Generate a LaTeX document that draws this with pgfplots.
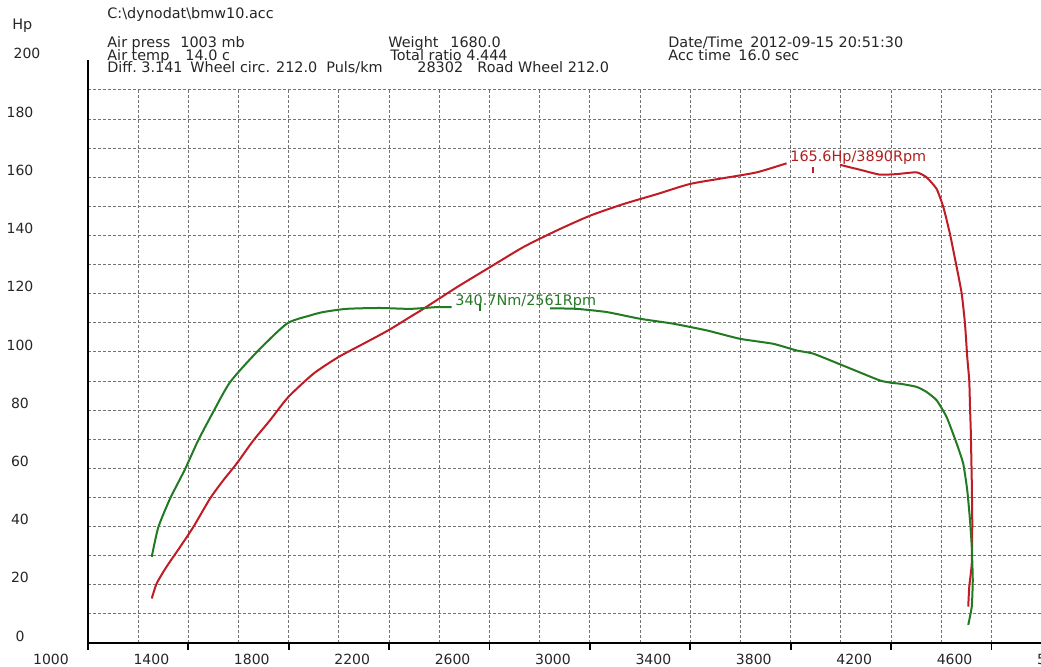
\documentclass[border=0pt]{standalone}
\usepackage{pgfplots}
\pgfplotsset{compat=1.18}
\usepackage{fontspec}
\setmainfont{DejaVu Sans}
\definecolor{pwr}{RGB}{192,28,38}
\definecolor{trq}{RGB}{34,122,34}
\definecolor{pwrtxt}{RGB}{178,30,30}
\definecolor{trqtxt}{RGB}{40,120,40}
\newcommand\hf{\fontsize{7.2}{8.6}\selectfont}
\begin{document}
\begin{tikzpicture}
\useasboundingbox (0,0) rectangle (520.5pt,333.5pt);
\clip (0,0) rectangle (520.5pt,333.5pt);
\fill[white] (0,0) rectangle (520.5pt,333.5pt);
\begin{axis}[
  at={(44pt,12pt)}, anchor=south west,
  scale only axis, width=502pt, height=276.5pt,
  xmin=1000, xmax=5000, ymin=0, ymax=190,
  axis x line*=bottom, axis y line*=left,
  axis line style={line width=0.9pt, black},
  xtick={1000,1400,...,5000},
  ytick={0,20,...,180},
  minor xtick={1200,1400,...,4800},
  minor ytick={10,20,...,190},
  grid=minor,
  minor grid style={black!55, line width=0.5pt, dash pattern=on 1.5pt off 1pt},
  tick align=outside, major tick length=3.5pt, minor tick length=0pt,
  xtick style={line width=0.9pt, black},
  ytick style={draw=none},
  ticklabel style={font=\fontsize{7}{8}\selectfont, text=black!85},
  /pgf/number format/1000 sep={},
  /pgf/number format/assume math mode=true,
  xticklabel style={anchor=center, xshift=-18.5pt, yshift=-4.5pt},
  yticklabel style={anchor=center, xshift=-30.5pt, yshift=3.5pt},
]
% power (Hp), before the peak label
\addplot[pwr, line width=1pt, line join=round, smooth, tension=0.4] coordinates {
(1254,15.3) (1274,20.5) (1313,26.2) (1367,33.0) (1420,39.9) (1486,49.6)
(1539,55.9) (1592,61.6) (1659,69.6) (1725,76.5) (1798,84.5) (1898,92.5)
(1997,98.2) (2097,102.8) (2196,107.4) (2283,112.0) (2336,114.8) (2469,122.2)
(2601,129.1) (2734,136.0) (2867,141.7) (3000,146.8) (3133,150.8) (3266,154.2)
(3398,157.7) (3531,159.7) (3664,161.7) (3783,164.8)};
% power, after the peak label
\addplot[pwr, line width=1pt, line join=round, smooth, tension=0.3] coordinates {
(3996,164.3) (4089,162.3) (4155,160.9) (4222,161.1) (4301,161.7) (4341,160.0)
(4381,156.0) (4408,149.7) (4434,140.6) (4461,129.1) (4481,120.0) (4494,109.7)
(4503,98.2) (4511,90.2) (4514,81.1) (4517,73.1) (4521,55.9) (4523,41.1)
(4521,27.3) (4511,19.3) (4507,12.5)};
% torque (scaled), before the peak label
\addplot[trq, line width=1pt, line join=round, smooth, tension=0.4] coordinates {
(1254,29.6) (1280,39.7) (1327,49.6) (1386,59.6) (1439,69.6) (1499,79.4)
(1566,89.6) (1672,99.9) (1792,109.7) (1884,112.5) (1937,113.7) (2030,114.8)
(2163,115.1) (2283,114.8) (2389,115.4) (2449,115.4)};
% torque, after the peak label
\addplot[trq, line width=1pt, line join=round, smooth, tension=0.3] coordinates {
(2841,115.0) (2947,114.8) (3067,113.7) (3199,111.4) (3332,109.7) (3465,107.4)
(3598,104.5) (3730,102.8) (3823,100.5) (3890,99.4) (4023,94.8) (4155,90.2)
(4208,89.3) (4235,89.1) (4301,88.0) (4340,86.3) (4381,83.4) (4421,77.6)
(4461,68.5) (4487,61.6) (4503,52.5) (4514,42.2) (4521,33.0) (4525,21.6)
(4521,12.5) (4507,6.2)};
% peak markers
\addplot[pwr, line width=1pt] coordinates {(3890,161.5) (3890,163.6)};
\addplot[trq, line width=1pt] coordinates {(2561,114.2) (2561,116.6)};
\end{axis}
\draw[line width=0.9pt] (44pt,288.5pt) -- (44pt,303.5pt);
\begin{scope}[every node/.style={inner sep=0pt, text=black!85, font=\hf}]
\node[anchor=base west] at (53.5pt,324pt) {C:\textbackslash dynodat\textbackslash bmw10.acc};
\node[anchor=base west] at (6pt,318.5pt) {Hp};
\node[anchor=center, font=\fontsize{7}{8}\selectfont] at (13.5pt,307pt) {200};
\node[anchor=base west] at (53.5pt,309.5pt) {Air press};
\node[anchor=base west] at (90pt,309.5pt) {1003 mb};
\node[anchor=base west] at (53.5pt,303.25pt) {Air temp};
\node[anchor=base west] at (92.5pt,303.25pt) {14.0 c};
\node[anchor=base west] at (53.5pt,297pt) {Diff.};
\node[anchor=base west] at (70.5pt,297pt) {3.141};
\node[anchor=base west] at (95pt,297pt) {Wheel circ. 212.0};
\node[anchor=base west] at (163pt,297pt) {Puls/km};
\node[anchor=base west] at (208.5pt,297pt) {28302};
\node[anchor=base west] at (238.5pt,297pt) {Road Wheel 212.0};
\node[anchor=base west] at (194pt,309.5pt) {Weight};
\node[anchor=base west] at (225pt,309.5pt) {1680.0};
\node[anchor=base west] at (195pt,303.25pt) {Total ratio 4.444};
\node[anchor=base west] at (334pt,309.5pt) {Date/Time};
\node[anchor=base west] at (375pt,309.5pt) {2012-09-15 20:51:30};
\node[anchor=base west] at (334pt,303pt) {Acc time};
\node[anchor=base west] at (369pt,303pt) {16.0 sec};
\node[anchor=base west, text=pwrtxt] at (395pt,252.5pt) {165.6Hp/3890Rpm};
\node[anchor=base west, text=trqtxt] at (227.5pt,180.75pt) {340.7Nm/2561Rpm};
\end{scope}
\end{tikzpicture}
\end{document}
